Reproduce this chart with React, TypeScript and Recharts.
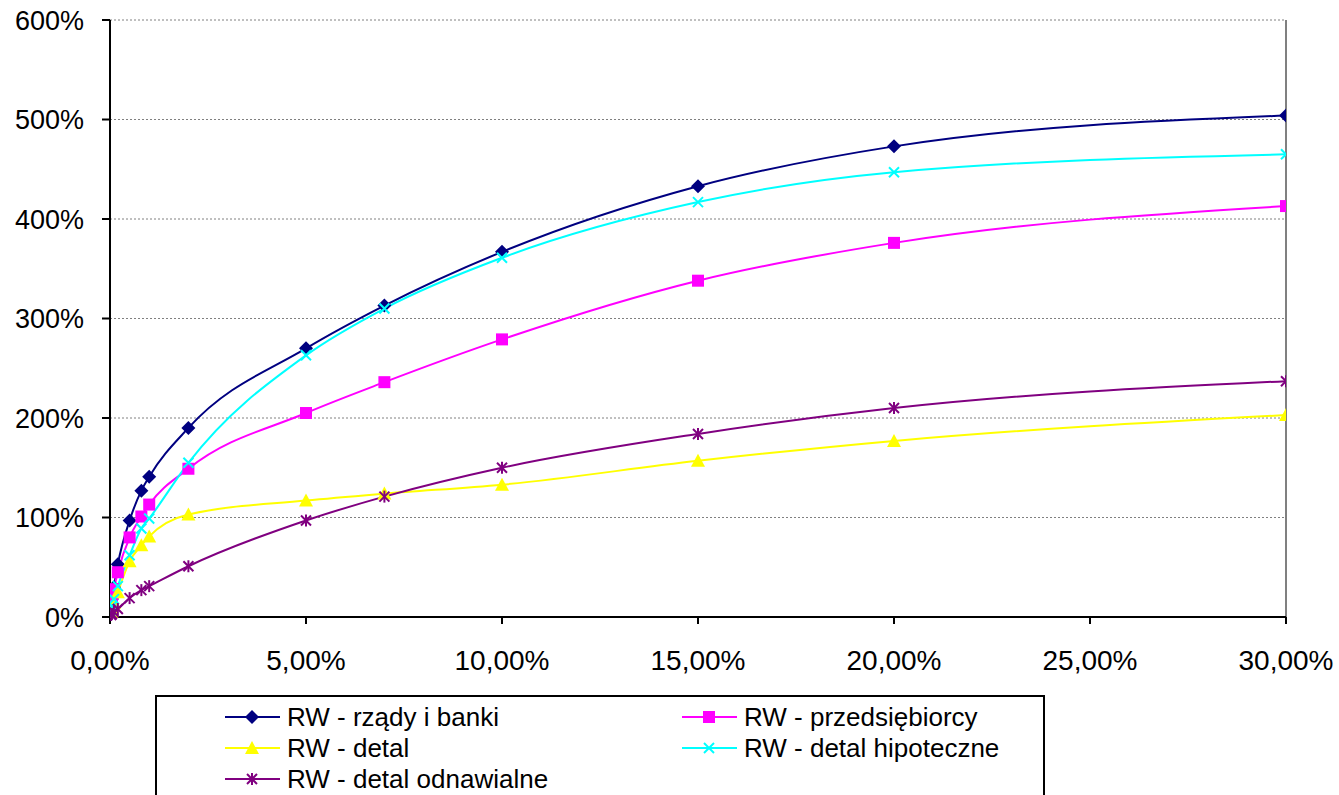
import React from 'react';
import {
  LineChart,
  Line,
  XAxis,
  YAxis,
  CartesianGrid,
  ReferenceLine,
} from 'recharts';

// default rate (%) at which each risk weight is read
const pdPoints = [0.03, 0.05, 0.1, 0.2, 0.5, 0.8, 1, 2, 5, 7, 10, 15, 20, 30];

// risk weights (%) per exposure class
const rzadyIBanki = [12, 18, 30, 53, 97, 127, 141, 190, 270, 313, 367, 433, 473, 504];
const przedsiebiorcy = [10, 17, 28, 45, 80, 101, 113, 149, 205, 236, 279, 338, 376, 413];
const detal = [5, 8, 14, 25, 56, 72, 81, 103, 117, 124, 133, 157, 177, 203];
const detalHipoteczne = [7, 11, 18, 31, 62, 89, 99, 155, 263, 310, 361, 417, 447, 465];
const detalOdnawialne = [2, 3, 5, 8, 19, 27, 31, 51, 97, 121, 150, 184, 210, 237];

const xTicks = [0, 5, 10, 15, 20, 25, 30];
const yTicks = [0, 100, 200, 300, 400, 500, 600];

type MarkerKind = 'diamond' | 'square' | 'triangle' | 'cross' | 'star';

const series: { key: string; name: string; color: string; marker: MarkerKind; values: number[] }[] = [
  { key: 'rzady', name: 'RW - rządy i banki', color: '#000080', marker: 'diamond', values: rzadyIBanki },
  { key: 'przed', name: 'RW - przedsiębiorcy', color: '#FF00FF', marker: 'square', values: przedsiebiorcy },
  { key: 'detal', name: 'RW - detal', color: '#FFFF00', marker: 'triangle', values: detal },
  { key: 'hipo', name: 'RW - detal hipoteczne', color: '#00FFFF', marker: 'cross', values: detalHipoteczne },
  { key: 'odn', name: 'RW - detal odnawialne', color: '#800080', marker: 'star', values: detalOdnawialne },
];

const data = pdPoints.map((pd, i) => {
  const row: Record<string, number> = { pd };
  series.forEach((s) => {
    row[s.key] = s.values[i];
  });
  return row;
});

const FONT = '"Liberation Sans", Arial, sans-serif';

function Marker({ kind, cx, cy, color }: { kind: MarkerKind; cx: number; cy: number; color: string }) {
  switch (kind) {
    case 'diamond':
      return <polygon points={`${cx},${cy - 7} ${cx + 7},${cy} ${cx},${cy + 7} ${cx - 7},${cy}`} fill={color} />;
    case 'square':
      return <rect x={cx - 6} y={cy - 6} width={12} height={12} fill={color} />;
    case 'triangle':
      return <polygon points={`${cx},${cy - 7} ${cx + 7},${cy + 6} ${cx - 7},${cy + 6}`} fill={color} />;
    case 'cross':
      return (
        <g stroke={color} strokeWidth={2}>
          <line x1={cx - 5} y1={cy - 5} x2={cx + 5} y2={cy + 5} />
          <line x1={cx - 5} y1={cy + 5} x2={cx + 5} y2={cy - 5} />
        </g>
      );
    case 'star':
      return (
        <g stroke={color} strokeWidth={2}>
          <line x1={cx - 5} y1={cy - 5} x2={cx + 5} y2={cy + 5} />
          <line x1={cx - 5} y1={cy + 5} x2={cx + 5} y2={cy - 5} />
          <line x1={cx} y1={cy - 6} x2={cx} y2={cy + 6} />
        </g>
      );
  }
  return null;
}

const fmtX = (v: number) => `${v.toFixed(2).replace('.', ',')}%`;
const fmtY = (v: number) => `${v}%`;

function LegendBox() {
  // two columns, filled row by row
  const colX = [223, 680];
  const rowY = [715, 746, 777];
  return (
    <div
      style={{
        position: 'absolute',
        left: 155,
        top: 695,
        width: 890,
        height: 120,
        border: '2px solid #000',
        boxSizing: 'border-box',
        fontFamily: FONT,
        fontSize: 26,
      }}
    >
      {series.map((s, i) => {
        const left = colX[i % 2] - 155;
        const top = rowY[Math.floor(i / 2)] - 695;
        return (
          <div key={s.key} style={{ position: 'absolute', left, top: top - 16, height: 32, display: 'flex', alignItems: 'center' }}>
            <svg width={56} height={32} style={{ display: 'block' }}>
              <line x1={0} y1={16} x2={55} y2={16} stroke={s.color} strokeWidth={2} />
              <Marker kind={s.marker} cx={27} cy={16} color={s.color} />
            </svg>
            <span style={{ marginLeft: 6, whiteSpace: 'nowrap', color: '#000' }}>{s.name}</span>
          </div>
        );
      })}
    </div>
  );
}

export default function App() {
  return (
    <div style={{ position: 'absolute', left: 0, top: 0, width: 1339, height: 795, overflow: 'hidden', background: '#fff' }}>
      <LineChart width={1339} height={795} data={data} margin={{ top: 20, right: 53, left: 0, bottom: 0 }}>
        <CartesianGrid vertical={false} stroke="#808080" strokeDasharray="2 2" />
        <XAxis
          dataKey="pd"
          type="number"
          domain={[0, 30]}
          ticks={xTicks}
          tickFormatter={fmtX}
          height={178}
          tickSize={7}
          tickMargin={26}
          axisLine={{ stroke: '#000', strokeWidth: 2 }}
          tickLine={{ stroke: '#000', strokeWidth: 2 }}
          tick={{ fill: '#000', fontSize: 28, fontFamily: FONT }}
          allowDataOverflow
        />
        <YAxis
          type="number"
          domain={[0, 600]}
          ticks={yTicks}
          tickFormatter={fmtY}
          width={110}
          tickSize={8}
          tickMargin={18}
          axisLine={{ stroke: '#000', strokeWidth: 2 }}
          tickLine={{ stroke: '#000', strokeWidth: 2 }}
          tick={{ fill: '#000', fontSize: 27, fontFamily: FONT }}
        />
        <ReferenceLine x={30} stroke="#808080" strokeWidth={2} />
        {series.map((s) => (
          <Line
            key={s.key}
            dataKey={s.key}
            name={s.name}
            type="monotone"
            stroke={s.color}
            strokeWidth={2}
            isAnimationActive={false}
            dot={(p: any) => (
              <Marker key={`${s.key}-${p.index}`} kind={s.marker} cx={p.cx} cy={p.cy} color={s.color} />
            )}
            activeDot={false}
          />
        ))}
      </LineChart>
      <LegendBox />
    </div>
  );
}
